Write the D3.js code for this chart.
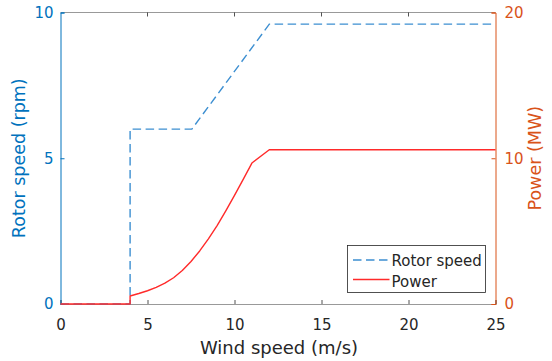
<!DOCTYPE html>
<html><head><meta charset="utf-8">
<script src="https://cdn.jsdelivr.net/npm/d3@7"></script>
<style>body{margin:0;background:#fff}svg{display:block}text{font-family:"DejaVu Sans",sans-serif}</style>
</head><body>
<svg id="c" width="552" height="361"></svg>
<script>
const windSpeed = [0, 4, 4, 7.55, 12, 25];
const rotorSpeed = [0, 0, 6, 6, 9.6, 9.6];
const powerWind = [0, 4, 4, 4.5, 5, 5.5, 6, 6.5, 7, 7.5, 8, 8.5, 9, 9.5, 10, 10.5, 11, 12, 25];
const powerMW = [0, 0, 0.55, 0.72, 0.91, 1.14, 1.43, 1.8, 2.3, 2.92, 3.64, 4.47, 5.38, 6.39, 7.45, 8.55, 9.67, 10.58, 10.58];
const xTicks = [0, 5, 10, 15, 20, 25];
const leftTicks = [0, 5, 10];
const rightTicks = [0, 10, 20];
const legendLabels = ["Rotor speed", "Power"];

const svg = d3.select("#c");
const L = 60.5, R = 495.5, T = 12.5, B = 304;
const blue = "#0072BD", orange = "#D95319", grey = "#262626";
const rotorColor = "#3d8fd1", powerColor = "#ff2a2a";
const x = d3.scaleLinear().domain([0, 25]).range([L, R]);
const yL = d3.scaleLinear().domain([0, 10]).range([B, T]);
const yR = d3.scaleLinear().domain([0, 20]).range([B, T]);

// box top
svg.append("line").attr("x1", L).attr("x2", R).attr("y1", T).attr("y2", T).attr("stroke", "#999").attr("stroke-width", 1.2);

// bottom axis
const gx = svg.append("g").attr("transform", `translate(0,${B})`)
  .call(d3.axisBottom(x).tickValues(xTicks).tickSize(-4).tickPadding(15).tickFormat(d3.format("d")));
gx.select(".domain").attr("stroke", "#999").attr("stroke-width", 1.2);
gx.selectAll(".tick line").attr("stroke", grey).attr("stroke-width", 0.8);
gx.selectAll("text").attr("fill", grey).style("font-size", "15px");
// top ticks
svg.append("g").selectAll("line").data(xTicks.slice(1, -1)).join("line")
  .attr("x1", d => x(d)).attr("x2", d => x(d)).attr("y1", T).attr("y2", T + 4)
  .attr("stroke", grey).attr("stroke-width", 0.8);

// left axis
const gl = svg.append("g").attr("transform", `translate(${L},0)`)
  .call(d3.axisLeft(yL).tickValues(leftTicks).tickSize(-4).tickPadding(7).tickFormat(d3.format("d")));
gl.select(".domain").attr("stroke", blue).attr("stroke-width", 1);
gl.selectAll(".tick line").attr("stroke", blue);
gl.selectAll("text").attr("fill", blue).style("font-size", "15px");

// right axis
const gr = svg.append("g").attr("transform", `translate(${R},0)`)
  .call(d3.axisRight(yR).tickValues(rightTicks).tickSize(-4).tickPadding(9).tickFormat(d3.format("d")));
gr.select(".domain").attr("stroke", orange).attr("stroke-width", 1);
gr.selectAll(".tick line").attr("stroke", orange);
gr.selectAll("text").attr("fill", orange).style("font-size", "15px");

// lines
const rotorLine = d3.line().x((d, i) => x(windSpeed[i])).y(d => yL(d));
svg.append("path").datum(rotorSpeed).attr("d", rotorLine)
  .attr("fill", "none").attr("stroke", rotorColor).attr("stroke-width", 1.4).attr("stroke-dasharray", "8.5,4.5");
const powerLine = d3.line().x((d, i) => x(powerWind[i])).y(d => yR(d));
svg.append("path").datum(powerMW).attr("d", powerLine)
  .attr("fill", "none").attr("stroke", powerColor).attr("stroke-width", 1.4).attr("stroke-linejoin", "round");

// axis labels
svg.append("text").attr("x", (L + R) / 2 + 1).attr("y", 354).attr("text-anchor", "middle")
  .attr("fill", grey).style("font-size", "18px").text("Wind speed (m/s)");
svg.append("text").attr("transform", `translate(25,${(T + B) / 2}) rotate(-90)`).attr("text-anchor", "middle")
  .attr("fill", blue).style("font-size", "17.5px").text("Rotor speed (rpm)");
svg.append("text").attr("transform", `translate(541,${(T + B) / 2}) rotate(-90)`).attr("text-anchor", "middle")
  .attr("fill", orange).style("font-size", "17.5px").text("Power (MW)");

// legend
const lg = svg.append("g");
lg.append("rect").attr("x", 347.5).attr("y", 245.5).attr("width", 138).attr("height", 47)
  .attr("fill", "#fff").attr("stroke", grey).attr("stroke-width", 0.8);
const styles = [{c: rotorColor, d: "8.5,4.5"}, {c: powerColor, d: null}];
const rowY = [260, 279.5], textY = [266, 286.5];
legendLabels.forEach((lab, i) => {
  lg.append("line").attr("x1", 353).attr("x2", 389.5).attr("y1", rowY[i]).attr("y2", rowY[i])
    .attr("stroke", styles[i].c).attr("stroke-width", 1.4).attr("stroke-dasharray", styles[i].d);
  lg.append("text").attr("x", 391.5).attr("y", textY[i]).attr("fill", grey).style("font-size", "15px").text(lab);
});
</script>
</body></html>
